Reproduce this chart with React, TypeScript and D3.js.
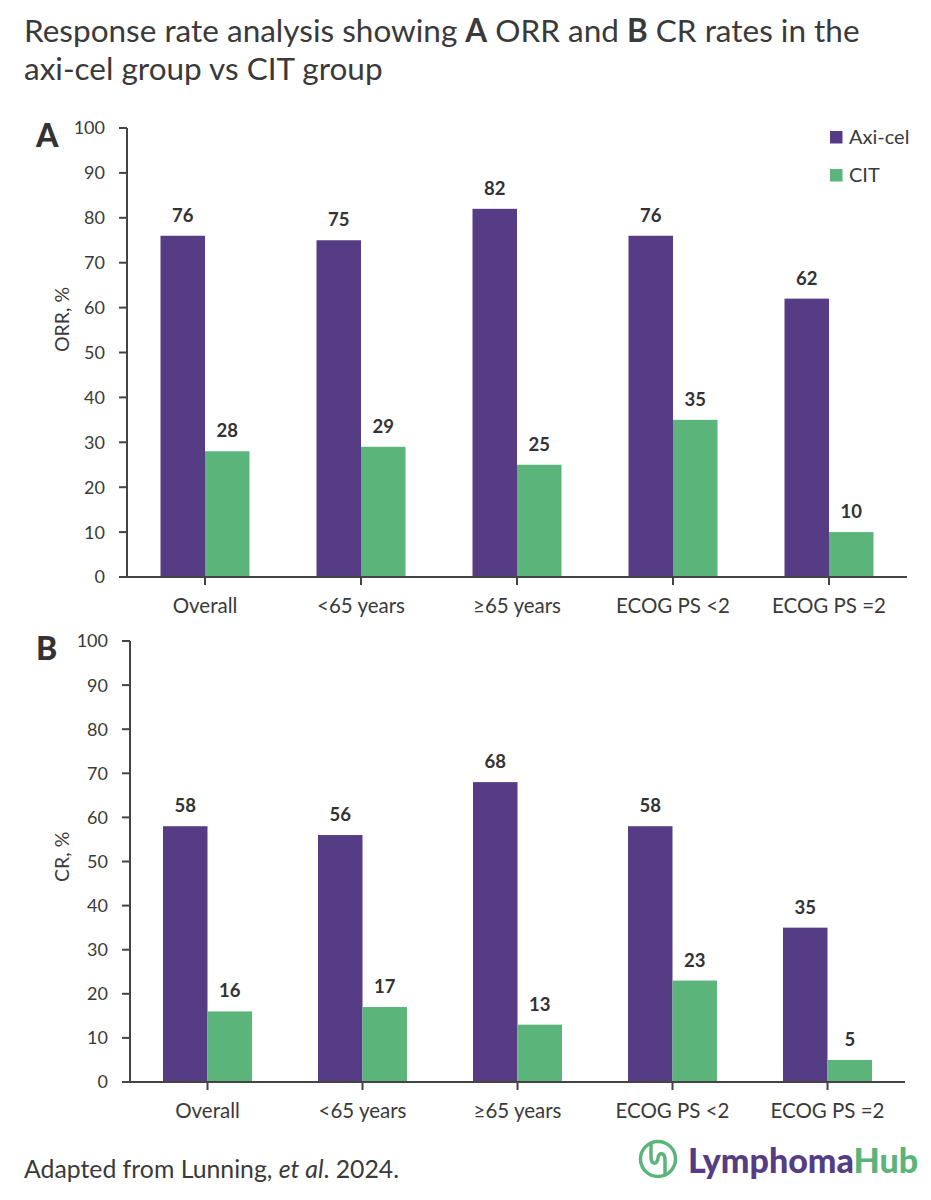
import React from "react";
import * as d3 from "d3";

const categories = ["Overall", "<65 years", "≥65 years", "ECOG PS <2", "ECOG PS =2"];
const seriesNames = ["Axi-cel", "CIT"];
const orrAxicel = [76, 75, 82, 76, 62];
const orrCit = [28, 29, 25, 35, 10];
const crAxicel = [58, 56, 68, 58, 35];
const crCit = [16, 17, 13, 23, 5];
const yTicks = [0, 10, 20, 30, 40, 50, 60, 70, 80, 90, 100];

const PURPLE = "#553C85";
const GREEN = "#5BB57A";
const TEXT = "#3a3a3a";
const AXIS = "#444";
const FONT = "Lato, 'Open Sans', sans-serif";

type PanelProps = {
  letter: string;
  yTitle: string;
  axicel: number[];
  cit: number[];
  left: number;
  top: number;
  bottom: number;
  step: number;
  titleStart: number;
};

function Panel({ letter, yTitle, axicel, cit, left, top, bottom, step, titleStart }: PanelProps) {
  const right = left + step * categories.length;
  const y = d3.scaleLinear().domain([0, 100]).range([bottom, top]);
  const x0 = d3.scaleBand<string>().domain(categories).range([left, right]).padding(0);
  const bw = x0.bandwidth();
  const barW = 44.5;
  const x1 = d3
    .scaleBand<string>()
    .domain(seriesNames)
    .range([bw / 2 - barW, bw / 2 + barW])
    .padding(0);
  const vals = [axicel, cit];
  const colors = [PURPLE, GREEN];
  return (
    <g>
      <text x={36} y={top + 19} fontFamily={FONT} fontWeight={900} fontSize={32} fill="#333">
        {letter}
      </text>
      {categories.map((c, i) => (
        <g key={c} transform={`translate(${x0(c)},0)`}>
          {seriesNames.map((s, j) => {
            const v = vals[j][i];
            const bx = x1(s)!;
            return (
              <g key={s}>
                <rect x={bx} y={y(v)} width={x1.bandwidth()} height={bottom - y(v)} fill={colors[j]} />
                <text
                  x={bx + x1.bandwidth() / 2}
                  y={y(v) - 14}
                  textAnchor="middle"
                  fontFamily={FONT}
                  fontWeight={700}
                  fontSize={18.5}
                  fill="#333"
                >
                  {v}
                </text>
              </g>
            );
          })}
        </g>
      ))}
      <line x1={left} x2={left} y1={top} y2={bottom} stroke={AXIS} strokeWidth={2} />
      {yTicks.map((t) => (
        <g key={t}>
          <line x1={left - 8} x2={left} y1={y(t)} y2={y(t)} stroke={AXIS} strokeWidth={2} />
          <text
            x={left - 22}
            y={y(t)}
            dy="0.36em"
            textAnchor="end"
            fontFamily={FONT}
            fontSize={18}
            fill={TEXT}
          >
            {t}
          </text>
        </g>
      ))}
      <line x1={left - 8} x2={right} y1={bottom} y2={bottom} stroke={AXIS} strokeWidth={2} />
      {categories.map((c) => {
        const cx = x0(c)! + bw / 2;
        return (
          <g key={c}>
            <line x1={cx} x2={cx} y1={bottom} y2={bottom + 8} stroke={AXIS} strokeWidth={2} />
            <text x={cx} y={bottom + 36} textAnchor="middle" fontFamily={FONT} fontSize={20.5} fill={TEXT}>
              {c}
            </text>
          </g>
        );
      })}
      <text
        transform={`translate(69,${titleStart}) rotate(-90)`}
        textAnchor="start"
        fontFamily={FONT}
        fontSize={19.5}
        fill={TEXT}
      >
        {yTitle}
      </text>
    </g>
  );
}

export default function App() {
  return (
    <svg width={931} height={1200} style={{ display: "block", position: "absolute", left: 0, top: 0 }}>
      <rect width={931} height={1200} fill="#fff" />
      <text x={24} y={42} fontFamily={FONT} fontSize={31.5} fill={TEXT}>
        Response rate analysis showing <tspan fontWeight={700}>A</tspan> ORR and{" "}
        <tspan fontWeight={700}>B</tspan> CR rates in the
      </text>
      <text x={24} y={79.5} fontFamily={FONT} fontSize={31.5} fill={TEXT}>
        axi-cel group vs CIT group
      </text>

      <Panel
        letter="A"
        yTitle="ORR, %"
        axicel={orrAxicel}
        cit={orrCit}
        left={127}
        top={128}
        bottom={577}
        step={156}
        titleStart={352}
      />
      <Panel
        letter="B"
        yTitle="CR, %"
        axicel={crAxicel}
        cit={crCit}
        left={130}
        top={641}
        bottom={1082}
        step={155}
        titleStart={882}
      />

      {seriesNames.map((s, i) => (
        <g key={s} transform={`translate(830,${131 + i * 38})`}>
          <rect width={12.5} height={12.5} fill={i === 0 ? PURPLE : GREEN} />
          <text x={19} y={12.5} fontFamily={FONT} fontSize={20} fill={TEXT}>
            {s}
          </text>
        </g>
      ))}

      <text x={24} y={1178} fontFamily={FONT} fontSize={24.8} fill={TEXT}>
        Adapted from Lunning, <tspan fontStyle="italic">et al</tspan>. 2024.
      </text>
      <g>
        <circle cx={658} cy={1159} r={17.5} fill="none" stroke={GREEN} strokeWidth={3.5} />
        <path
          d="M651,1142 V1157 C651,1165 657.5,1165 658,1158 C658.5,1152 665,1152 665,1160 V1176"
          fill="none"
          stroke={GREEN}
          strokeWidth={3.5}
          strokeLinejoin="round"
        />
        <text x={688} y={1173} fontFamily={FONT} fontWeight={900} fontSize={34}>
          <tspan fill={PURPLE}>Lymphoma</tspan>
          <tspan fill={GREEN}>Hub</tspan>
        </text>
      </g>
    </svg>
  );
}
